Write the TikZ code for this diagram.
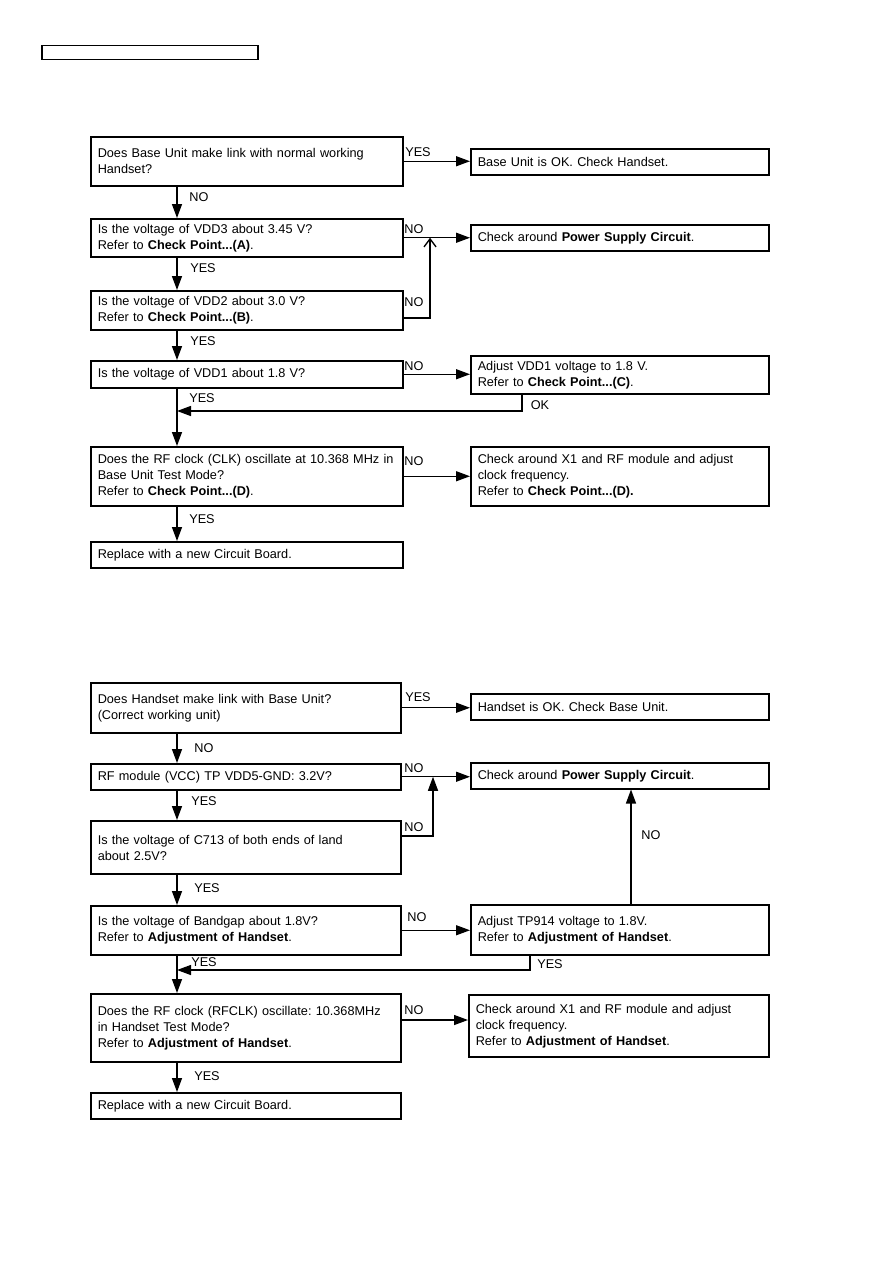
\documentclass[tikz,border=0pt]{standalone}
\usepackage{fontspec}
\setmainfont{Liberation Sans}
\usetikzlibrary{arrows.meta}
\frenchspacing
\tikzset{
  box/.style={draw, line width=1.5pt, anchor=north west, align=left, inner xsep=7pt, inner ysep=0pt,
    font=\fontsize{12.7}{16}\selectfont\frenchspacing},
  lbl/.style={inner sep=0pt, font=\fontsize{12.7}{15}\selectfont},
  conn/.style={line width=1.35pt},
  arr/.style={conn, -{Triangle[length=14pt,width=10pt]}},
  oarr/.style={conn, -{Straight Barb[length=8pt,width=12pt,line width=1.35pt]}},
}
\begin{document}
\begin{tikzpicture}[x=1pt,y=-1pt]
\useasboundingbox (0,0) rectangle (893,1263);
\node[draw, line width=1.5pt, anchor=north west, minimum width=216pt, minimum height=14pt, inner sep=0pt] (hdr) at (41,45) {};
\coordinate (spine) at (177,0);

% ---------- top chart ----------
\node[box, text width=298pt, minimum height=49pt] (b1) at (90,136) {Does Base Unit make link with normal working\\Handset?};
\node[box, text width=284pt, minimum height=26pt] (r1) at (470,148) {Base Unit is OK. Check Handset.};
\node[box, text width=298pt, minimum height=38pt] (b2) at (90,218) {Is the voltage of VDD3 about 3.45 V?\\Refer to \textbf{Check Point...(A)}.};
\node[box, text width=284pt, minimum height=26pt] (r2) at (470,224) {Check around \textbf{Power Supply Circuit}.};
\node[box, text width=298pt, minimum height=39pt] (b3) at (90,290) {Is the voltage of VDD2 about 3.0 V?\\Refer to \textbf{Check Point...(B)}.};
\node[box, text width=298pt, minimum height=27pt] (b4) at (90,360) {Is the voltage of VDD1 about 1.8 V?};
\node[box, text width=284pt, minimum height=38pt] (r4) at (470,355) {Adjust VDD1 voltage to 1.8 V.\\Refer to \textbf{Check Point...(C)}.};
\node[box, text width=298pt, minimum height=59pt] (b5) at (90,446) {Does the RF clock (CLK) oscillate at 10.368 MHz in\\Base Unit Test Mode?\\Refer to \textbf{Check Point...(D)}.};
\node[box, text width=284pt, minimum height=59pt] (r5) at (470,446) {Check around X1 and RF module and adjust\\clock frequency.\\Refer to \textbf{Check Point...(D).}};
\node[box, text width=298pt, minimum height=26pt] (b6) at (90,541) {Replace with a new Circuit Board.};

\coordinate (j1) at (430,318);
\coordinate (ok1) at (522,411);

\draw[arr] (b1.east) -- (b1.east -| r1.west);
\draw[arr] (b1.south -| spine) -- (b2.north -| spine);
\draw[arr] (b2.east) -- (b2.east -| r2.west);
\draw[arr] (b2.south -| spine) -- (b3.north -| spine);
\draw[oarr] (b3.east |- j1) -- (j1) -- (j1 |- b2.east);
\draw[arr] (b3.south -| spine) -- (b4.north -| spine);
\draw[arr] (b4.east) -- (b4.east -| r4.west);
\draw[arr] (b4.south -| spine) -- (b5.north -| spine);
\draw[arr] (r4.south -| ok1) -- (ok1) -- (ok1 -| spine);
\draw[arr] (b5.east) -- (b5.east -| r5.west);
\draw[arr] (b5.south -| spine) -- (b6.north -| spine);

\node[lbl] (t1) at (418,152) {YES};
\node[lbl] (t2) at (199,197) {NO};
\node[lbl] (t3) at (414,229) {NO};
\node[lbl] (t4) at (203,268) {YES};
\node[lbl] (t5) at (414,302) {NO};
\node[lbl] (t6) at (203,341) {YES};
\node[lbl] (t7) at (414,366) {NO};
\node[lbl] (t8) at (202,398) {YES};
\node[lbl] (t9) at (540,405) {OK};
\node[lbl] (t10) at (414,461) {NO};
\node[lbl] (t11) at (202,519) {YES};

% ---------- bottom chart ----------
\node[box, text width=296pt, minimum height=50pt] (c1) at (90,682) {Does Handset make link with Base Unit?\\(Correct working unit)};
\node[box, text width=284pt, minimum height=26pt] (s1) at (470,693) {Handset is OK. Check Base Unit.};
\node[box, text width=296pt, minimum height=26pt] (c2) at (90,763) {RF module (VCC) TP VDD5-GND: 3.2V?};
\node[box, text width=284pt, minimum height=26pt] (s2) at (470,762) {Check around \textbf{Power Supply Circuit}.};
\node[box, text width=296pt, minimum height=53pt, text depth=14pt] (c3) at (90,820) {Is the voltage of C713 of both ends of land\\about 2.5V?};
\node[box, text width=296pt, minimum height=49pt] (c4) at (90,905) {Is the voltage of Bandgap about 1.8V?\\Refer to \textbf{Adjustment of Handset}.};
\node[box, text width=284pt, minimum height=50pt] (s4) at (470,904) {Adjust TP914 voltage to 1.8V.\\Refer to \textbf{Adjustment of Handset}.};
\node[box, text width=296pt, minimum height=68pt] (c5) at (90,993) {Does the RF clock (RFCLK) oscillate: 10.368MHz\\in Handset Test Mode?\\Refer to \textbf{Adjustment of Handset}.};
\node[box, text width=286pt, minimum height=62pt] (s5) at (468,994) {Check around X1 and RF module and adjust\\clock frequency.\\Refer to \textbf{Adjustment of Handset}.};
\node[box, text width=296pt, minimum height=26pt] (c6) at (90,1092) {Replace with a new Circuit Board.};

\coordinate (j2) at (433,836);
\coordinate (up4) at (631,0);
\coordinate (yes4) at (530,970);
\coordinate (a5) at (0,1020);

\draw[arr] (c1.east) -- (c1.east -| s1.west);
\draw[arr] (c1.south -| spine) -- (c2.north -| spine);
\draw[arr] (c2.east) -- (c2.east -| s2.west);
\draw[arr] (c2.south -| spine) -- (c3.north -| spine);
\draw[arr] (c3.east |- j2) -- (j2) -- (j2 |- c2.east);
\draw[arr] (c3.south -| spine) -- (c4.north -| spine);
\draw[arr] (c4.east) -- (c4.east -| s4.west);
\draw[arr] (s4.north -| up4) -- (s2.south -| up4);
\draw[arr] (s4.south -| yes4) -- (yes4) -- (yes4 -| spine);
\draw[arr] (c4.south -| spine) -- (c5.north -| spine);
\draw[arr] (c5.east |- a5) -- (s5.west |- a5);
\draw[arr] (c5.south -| spine) -- (c6.north -| spine);

\node[lbl] (u1) at (418,697) {YES};
\node[lbl] (u2) at (204,748) {NO};
\node[lbl] (u3) at (414,768) {NO};
\node[lbl] (u4) at (204,801) {YES};
\node[lbl] (u5) at (414,827) {NO};
\node[lbl] (u6) at (207,888) {YES};
\node[lbl] (u7) at (417,917) {NO};
\node[lbl] (u8) at (651,835) {NO};
\node[lbl] (u9) at (204,962) {YES};
\node[lbl] (u10) at (550,964) {YES};
\node[lbl] (u11) at (414,1010) {NO};
\node[lbl] (u12) at (207,1076) {YES};
\end{tikzpicture}
\end{document}
